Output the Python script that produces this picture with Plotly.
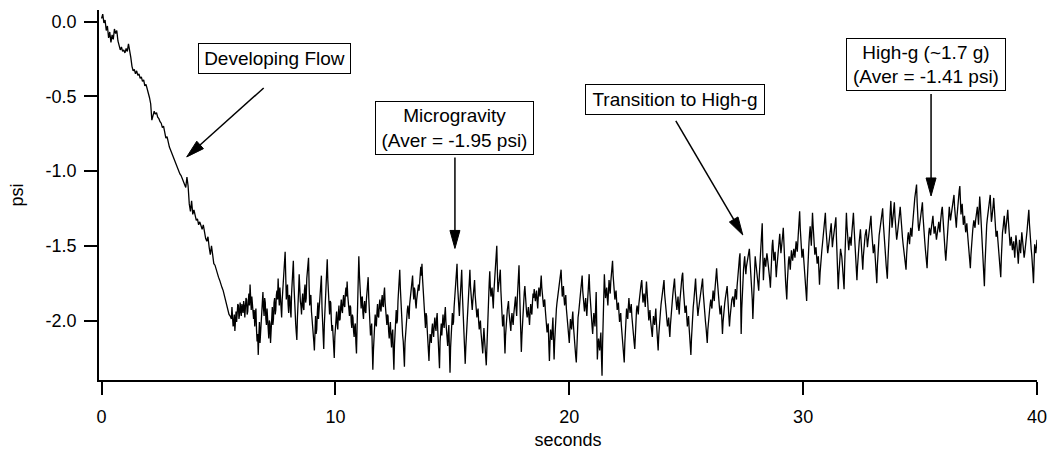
import math
import plotly.graph_objects as go

# ---------------- data (psi) ----------------
DEV_DT = 0.05      # s between samples, developing-flow part
NOISY_DT = 0.025   # s between samples after 5.55 s (main + in-between samples)
NOISY_T0 = 5.55

# 0.00 s - 5.50 s : developing flow (every 0.05 s)
developing_psi = [
    0.02, 0.05, -0.01, 0.01, -0.06, -0.03, -0.11, -0.07, -0.14, -0.09, -0.12, -0.05, -0.08, -0.06, -0.13, -0.16, -0.19, -0.17, -0.20, -0.19,
    -0.21, -0.18, -0.20, -0.15, -0.19, -0.24, -0.30, -0.33, -0.32, -0.35, -0.33, -0.36, -0.35, -0.38, -0.37, -0.40, -0.39, -0.43, -0.42, -0.46,
    -0.48, -0.51, -0.55, -0.66, -0.63, -0.60, -0.62, -0.61, -0.64, -0.65, -0.67, -0.68, -0.71, -0.70, -0.74, -0.78, -0.77, -0.82, -0.84, -0.86,
    -0.88, -0.91, -0.93, -0.95, -0.96, -0.99, -1.00, -1.02, -1.03, -1.05, -1.07, -1.09, -1.11, -1.04, -1.10, -1.22, -1.27, -1.20, -1.29, -1.26,
    -1.31, -1.33, -1.32, -1.36, -1.34, -1.37, -1.39, -1.36, -1.42, -1.45, -1.47, -1.44, -1.51, -1.56, -1.50, -1.58, -1.62, -1.63, -1.66, -1.68,
    -1.71, -1.73, -1.76, -1.78, -1.80, -1.83, -1.86, -1.89, -1.93, -1.96, -1.97,
]

# 5.55 s - 27.50 s : microgravity, samples every 0.05 s
microgravity_psi = [
    -1.99, -1.95, -2.02, -2.07, -1.94, -1.97, -1.90, -1.96, -1.92, -1.89, -1.95, -1.90, -1.93, -1.86, -1.94, -1.82, -1.76, -1.93, -1.88, -1.99,
    -2.04, -1.92, -2.14, -2.23, -2.01, -2.08, -1.93, -1.81, -1.97, -1.88, -2.03, -1.98, -2.12, -2.02, -2.09, -1.91, -1.99, -1.85, -1.93, -1.80,
    -1.72, -1.90, -1.84, -1.98, -1.79, -1.63, -1.54, -1.86, -1.76, -1.95, -1.84, -1.98, -1.72, -1.60, -1.89, -2.02, -2.13, -1.92, -1.69, -1.87,
    -1.96, -1.82, -1.93, -1.76, -1.85, -1.64, -1.58, -1.90, -1.83, -2.01, -2.10, -2.20, -1.97, -2.06, -1.88, -1.94, -1.79, -1.70, -2.05, -2.19,
    -1.92, -1.75, -1.59, -1.84, -1.96, -1.88, -2.07, -2.12, -2.25, -2.03, -1.94, -2.06, -1.90, -1.99, -1.86, -1.95, -1.83, -1.91, -1.78, -1.74,
    -1.88, -1.97, -1.91, -2.05, -1.98, -2.11, -2.02, -2.22, -1.83, -1.57, -1.79, -1.92, -1.84, -1.99, -1.87, -1.95, -1.80, -1.71, -1.93, -2.10,
    -2.02, -2.33, -2.08, -1.96, -2.04, -1.89, -1.98, -1.86, -1.94, -1.83, -1.91, -1.78, -1.95, -2.03, -1.97, -2.12, -2.01, -2.18, -2.06, -2.33,
    -2.05, -1.93, -2.00, -1.79, -1.66, -1.88, -2.04, -2.14, -2.31, -2.07, -1.98, -1.90, -1.99, -1.84, -1.77, -1.70, -1.86, -1.80, -1.92, -1.83,
    -1.76, -1.71, -1.64, -1.62, -1.79, -1.90, -2.05, -1.97, -2.12, -2.27, -2.09, -2.15, -2.02, -2.11, -1.98, -2.07, -1.95, -2.14, -2.32, -2.05,
    -2.10, -1.96, -2.05, -1.91, -2.08, -2.17, -2.03, -2.35, -2.06, -1.95, -2.01, -1.84, -1.72, -1.62, -1.88, -1.97, -1.81, -1.66, -1.92, -2.08,
    -2.29, -2.12, -1.97, -1.81, -1.66, -1.85, -1.93, -1.82, -1.73, -1.89, -1.98, -1.92, -2.06, -2.00, -2.13, -2.22, -2.05, -2.16, -2.30, -2.02,
    -1.86, -1.67, -1.84, -1.78, -1.92, -1.73, -1.62, -1.50, -1.81, -1.74, -1.66, -1.90, -2.04, -1.96, -2.22, -2.01, -1.93, -1.87, -2.00, -2.07,
    -1.95, -2.03, -1.92, -1.84, -1.97, -1.78, -1.63, -1.94, -2.21, -2.00, -1.86, -1.77, -1.90, -1.98, -1.91, -2.03, -1.89, -1.96, -1.82, -1.79,
    -1.87, -1.80, -1.92, -1.78, -1.84, -1.70, -1.83, -1.91, -1.86, -1.99, -2.08, -2.02, -2.27, -2.06, -2.13, -1.98, -2.26, -2.04, -1.92, -1.85,
    -1.78, -1.72, -1.66, -1.84, -1.77, -1.90, -1.83, -1.97, -2.07, -2.15, -1.99, -2.06, -1.94, -2.10, -2.19, -2.28, -2.03, -1.95, -1.86, -1.79,
    -1.70, -1.88, -1.94, -1.85, -1.97, -1.82, -1.69, -1.90, -1.98, -2.09, -1.95, -2.04, -1.81, -2.26, -2.12, -2.20, -2.08, -2.37, -1.94, -1.69,
    -1.85, -1.78, -1.90, -1.73, -1.82, -1.67, -1.60, -1.79, -1.86, -1.80, -1.93, -1.88, -2.01, -1.95, -2.09, -2.15, -2.28, -2.04, -1.92, -1.99,
    -1.85, -1.95, -1.89, -2.03, -2.10, -2.19, -1.98, -1.90, -1.96, -1.84, -1.79, -1.73, -1.88, -1.82, -1.91, -1.74, -1.85, -2.00, -1.93, -2.06,
    -2.11, -1.97, -2.03, -1.92, -2.08, -2.20, -2.01, -1.94, -1.86, -1.80, -1.73, -1.89, -1.95, -2.04, -1.98, -2.11, -1.96, -1.88, -1.79, -1.72,
    -1.86, -1.93, -1.84, -1.96, -1.81, -1.74, -1.68, -1.87, -1.95, -1.90, -2.04, -1.97, -2.12, -2.23, -2.02, -1.91, -1.83, -1.72, -1.86, -1.97,
    -1.90, -1.84, -1.78, -1.72, -1.88, -1.96, -2.05, -2.15, -1.99, -1.93, -1.86, -1.92, -1.80, -1.87, -1.74, -1.65, -1.79, -1.86, -1.96, -1.90,
    -2.09, -1.95, -1.88, -1.82, -1.77, -1.90, -2.04, -1.93, -1.86, -1.84, -1.91, -1.79, -1.86, -1.70, -1.63, -1.55, -2.09, -1.78, -1.66, -1.57,
]
# microgravity in-between samples (5.575 s - 27.525 s)
microgravity_mid_psi = [
    -1.91, -2.04, -1.96, -2.00, -2.01, -1.89, -1.99, -1.88, -1.97, -1.95, -1.87, -1.98, -1.85, -1.96, -1.87, -1.90, -1.85, -1.84, -1.95, -1.93,
    -1.96, -2.06, -2.09, -2.10, -2.15, -1.98, -1.87, -1.92, -1.85, -1.99, -1.92, -2.07, -2.00, -2.15, -1.97, -2.03, -1.88, -1.96, -1.83, -1.86,
    -1.83, -1.78, -1.94, -1.86, -1.70, -1.59, -1.70, -1.80, -1.89, -1.83, -1.93, -1.82, -1.66, -1.76, -1.95, -2.08, -1.98, -1.80, -1.82, -1.90,
    -1.87, -1.91, -1.80, -1.88, -1.72, -1.61, -1.77, -1.84, -1.94, -2.05, -2.14, -2.05, -2.09, -1.95, -1.99, -1.84, -1.76, -1.91, -2.12, -2.03,
    -1.81, -1.66, -1.73, -1.93, -1.87, -2.00, -2.03, -2.20, -2.11, -1.97, -2.02, -1.96, -2.00, -1.91, -1.93, -1.87, -1.90, -1.82, -1.84, -1.83,
    -1.95, -1.90, -2.01, -1.96, -2.07, -2.04, -2.15, -2.05, -1.70, -1.69, -1.88, -1.85, -1.95, -1.90, -1.94, -1.86, -1.76, -1.85, -2.02, -2.06,
    -2.18, -2.20, -1.99, -2.02, -1.95, -1.97, -1.90, -1.92, -1.87, -1.90, -1.82, -1.88, -2.00, -1.96, -2.07, -2.05, -2.12, -2.09, -2.22, -2.16,
    -1.97, -2.02, -1.87, -1.72, -1.78, -1.98, -2.10, -2.22, -2.15, -2.04, -1.93, -1.97, -1.89, -1.81, -1.74, -1.80, -1.78, -1.88, -1.86, -1.80,
    -1.80, -1.68, -1.70, -1.72, -1.86, -1.99, -1.95, -2.06, -2.19, -2.16, -2.12, -2.06, -2.08, -2.03, -2.04, -1.99, -2.06, -2.23, -2.14, -2.02,
    -2.01, -2.02, -1.96, -2.01, -2.13, -2.09, -2.20, -2.18, -1.99, -2.03, -1.91, -1.78, -1.68, -1.77, -1.95, -1.88, -1.72, -1.81, -2.01, -2.16,
    -2.18, -2.05, -1.88, -1.74, -1.77, -1.90, -1.87, -1.76, -1.83, -1.95, -1.94, -2.01, -2.02, -2.08, -2.18, -2.12, -2.12, -2.24, -2.14, -1.93,
    -1.75, -1.78, -1.80, -1.86, -1.81, -1.66, -1.57, -1.67, -1.77, -1.70, -1.80, -1.98, -1.99, -2.11, -2.10, -1.96, -1.90, -1.95, -2.04, -1.99,
    -2.00, -1.96, -1.88, -1.92, -1.86, -1.70, -1.80, -2.08, -2.10, -1.92, -1.81, -1.85, -1.95, -1.93, -1.98, -1.95, -1.94, -1.88, -1.85, -1.83,
    -1.83, -1.87, -1.84, -1.82, -1.76, -1.78, -1.88, -1.87, -1.93, -2.05, -2.04, -2.16, -2.15, -2.10, -2.05, -2.13, -2.14, -1.97, -1.88, -1.81,
    -1.75, -1.68, -1.76, -1.80, -1.85, -1.86, -1.92, -2.03, -2.12, -2.06, -2.03, -1.99, -2.03, -2.15, -2.24, -2.14, -1.98, -1.90, -1.82, -1.74,
    -1.80, -1.91, -1.89, -1.92, -1.89, -1.75, -1.80, -1.95, -2.04, -2.01, -2.00, -1.92, -2.04, -2.18, -2.16, -2.13, -2.24, -2.15, -1.80, -1.78,
    -1.81, -1.85, -1.81, -1.78, -1.74, -1.63, -1.70, -1.83, -1.82, -1.87, -1.90, -1.95, -1.97, -2.03, -2.12, -2.22, -2.15, -1.97, -1.96, -1.91,
    -1.91, -1.92, -1.97, -2.07, -2.15, -2.08, -1.93, -1.94, -1.89, -1.81, -1.75, -1.81, -1.85, -1.87, -1.81, -1.80, -1.94, -1.96, -2.00, -2.09,
    -2.03, -2.01, -1.97, -2.01, -2.15, -2.10, -1.97, -1.89, -1.83, -1.76, -1.82, -1.92, -2.00, -2.01, -2.06, -2.03, -1.91, -1.83, -1.75, -1.80,
    -1.90, -1.88, -1.91, -1.88, -1.77, -1.70, -1.78, -1.92, -1.92, -1.98, -2.00, -2.05, -2.18, -2.12, -1.96, -1.87, -1.77, -1.80, -1.92, -1.93,
    -1.86, -1.81, -1.75, -1.81, -1.92, -2.01, -2.10, -2.06, -1.96, -1.89, -1.90, -1.85, -1.84, -1.80, -1.69, -1.72, -1.83, -1.92, -1.93, -2.00,
    -2.01, -1.91, -1.85, -1.79, -1.84, -1.98, -1.98, -1.89, -1.85, -1.88, -1.84, -1.83, -1.77, -1.66, -1.58, -1.83, -1.92, -1.71, -1.61, -1.64,
]

# 27.55 s - 40.00 s : transition and high-g, samples every 0.05 s
highg_psi = [
    -1.69, -1.61, -1.58, -1.52, -1.66, -1.74, -1.99, -1.71, -1.57, -1.65, -1.73, -1.80, -1.62, -1.48, -1.35, -1.73, -1.58, -1.64, -1.55, -1.61,
    -1.67, -1.78, -1.56, -1.46, -1.60, -1.54, -1.71, -1.59, -1.50, -1.42, -1.55, -1.48, -1.38, -1.62, -1.74, -1.86, -1.63, -1.57, -1.66, -1.53,
    -1.60, -1.52, -1.58, -1.47, -1.54, -1.41, -1.27, -1.49, -1.58, -1.52, -1.66, -1.74, -1.87, -1.61, -1.48, -1.37, -1.50, -1.28, -1.45, -1.56,
    -1.51, -1.62, -1.57, -1.76, -1.60, -1.53, -1.45, -1.39, -1.28, -1.47, -1.55, -1.49, -1.42, -1.35, -1.51, -1.44, -1.39, -1.31, -1.58, -1.79,
    -1.60, -1.52, -1.57, -1.66, -1.79, -1.48, -1.28, -1.45, -1.53, -1.44, -1.50, -1.37, -1.28, -1.46, -1.58, -1.73, -1.55, -1.47, -1.39, -1.52,
    -1.66, -1.49, -1.43, -1.39, -1.51, -1.44, -1.36, -1.30, -1.47, -1.55, -1.49, -1.62, -1.75, -1.52, -1.43, -1.37, -1.31, -1.25, -1.42, -1.51,
    -1.63, -1.72, -1.48, -1.34, -1.20, -1.38, -1.30, -1.21, -1.39, -1.46, -1.40, -1.33, -1.24, -1.37, -1.45, -1.52, -1.58, -1.66, -1.47, -1.41,
    -1.49, -1.38, -1.44, -1.31, -1.22, -1.15, -1.09, -1.33, -1.40, -1.35, -1.28, -1.21, -1.39, -1.47, -1.57, -1.65, -1.45, -1.38, -1.43, -1.36,
    -1.30, -1.42, -1.37, -1.46, -1.40, -1.34, -1.41, -1.28, -1.24, -1.39, -1.50, -1.60, -1.44, -1.36, -1.24, -1.33, -1.27, -1.20, -1.16, -1.31,
    -1.38, -1.25, -1.17, -1.10, -1.29, -1.22, -1.36, -1.30, -1.41, -1.35, -1.46, -1.52, -1.65, -1.48, -1.40, -1.33, -1.38, -1.29, -1.24, -1.36,
    -1.17, -1.30, -1.42, -1.55, -1.77, -1.49, -1.36, -1.29, -1.22, -1.16, -1.34, -1.28, -1.18, -1.37, -1.44, -1.40, -1.52, -1.61, -1.71, -1.45,
    -1.38, -1.30, -1.42, -1.35, -1.26, -1.41, -1.50, -1.44, -1.53, -1.47, -1.58, -1.43, -1.50, -1.62, -1.46, -1.55, -1.41, -1.49, -1.58, -1.52,
    -1.44, -1.35, -1.26, -1.43, -1.52, -1.60, -1.75, -1.49, -1.55, -1.46,
]
# high-g in-between samples (27.575 s - 39.975 s)
highg_mid_psi = [
    -1.64, -1.60, -1.55, -1.59, -1.70, -1.86, -1.84, -1.63, -1.61, -1.69, -1.77, -1.70, -1.55, -1.41, -1.55, -1.65, -1.61, -1.59, -1.58, -1.64,
    -1.73, -1.66, -1.50, -1.53, -1.57, -1.63, -1.65, -1.54, -1.46, -1.49, -1.51, -1.43, -1.50, -1.68, -1.80, -1.74, -1.60, -1.62, -1.59, -1.57,
    -1.56, -1.55, -1.52, -1.51, -1.47, -1.34, -1.38, -1.54, -1.55, -1.59, -1.70, -1.80, -1.74, -1.54, -1.42, -1.44, -1.39, -1.36, -1.51, -1.53,
    -1.57, -1.59, -1.67, -1.68, -1.56, -1.49, -1.42, -1.33, -1.38, -1.51, -1.52, -1.45, -1.38, -1.43, -1.47, -1.41, -1.35, -1.45, -1.69, -1.70,
    -1.56, -1.55, -1.62, -1.73, -1.63, -1.37, -1.37, -1.49, -1.48, -1.47, -1.43, -1.32, -1.37, -1.52, -1.66, -1.64, -1.51, -1.43, -1.46, -1.59,
    -1.57, -1.46, -1.41, -1.45, -1.47, -1.40, -1.33, -1.39, -1.51, -1.52, -1.56, -1.69, -1.63, -1.47, -1.40, -1.34, -1.28, -1.34, -1.47, -1.57,
    -1.68, -1.60, -1.41, -1.27, -1.29, -1.34, -1.25, -1.30, -1.43, -1.43, -1.36, -1.28, -1.31, -1.41, -1.49, -1.55, -1.62, -1.56, -1.44, -1.45,
    -1.43, -1.41, -1.37, -1.26, -1.18, -1.12, -1.21, -1.37, -1.37, -1.31, -1.24, -1.30, -1.43, -1.52, -1.61, -1.55, -1.41, -1.41, -1.39, -1.33,
    -1.36, -1.39, -1.42, -1.43, -1.37, -1.38, -1.34, -1.26, -1.32, -1.45, -1.55, -1.52, -1.40, -1.30, -1.29, -1.30, -1.23, -1.18, -1.24, -1.35,
    -1.31, -1.21, -1.13, -1.20, -1.25, -1.29, -1.33, -1.36, -1.38, -1.41, -1.49, -1.59, -1.56, -1.44, -1.36, -1.36, -1.33, -1.26, -1.30, -1.26,
    -1.23, -1.36, -1.49, -1.66, -1.63, -1.42, -1.32, -1.25, -1.19, -1.25, -1.31, -1.23, -1.27, -1.41, -1.42, -1.46, -1.57, -1.66, -1.58, -1.41,
    -1.34, -1.36, -1.38, -1.30, -1.33, -1.46, -1.47, -1.49, -1.50, -1.53, -1.50, -1.47, -1.56, -1.54, -1.51, -1.48, -1.45, -1.54, -1.55, -1.48,
    -1.40, -1.30, -1.35, -1.48, -1.56, -1.68, -1.62, -1.52, -1.51,
]

# assemble the recorded series: main samples interleaved with the in-between samples
main_noisy = microgravity_psi + highg_psi
mid_noisy = microgravity_mid_psi + highg_mid_psi
noisy_psi = []
for a, b in zip(main_noisy, mid_noisy):
    noisy_psi += [a, b]
noisy_psi += main_noisy[len(mid_noisy):]

psi = developing_psi + noisy_psi
seconds = ([round(i * DEV_DT, 3) for i in range(len(developing_psi))]
           + [round(NOISY_T0 + j * NOISY_DT, 3) for j in range(len(noisy_psi))])

x_tick_vals = [0, 10, 20, 30, 40]
y_tick_vals = [0.0, -0.5, -1.0, -1.5, -2.0]
y_tick_text = ["0.0", "-0.5", "-1.0", "-1.5", "-2.0"]

# annotation boxes: text, centre (seconds, psi)
label_text = [
    "Developing Flow",
    "Microgravity<br>(Aver = -1.95 psi)",
    "Transition to High-g",
    "High-g (~1.7 g)<br>(Aver = -1.41 psi)",
]
label_t = [7.38, 15.08, 24.53, 35.25]
label_psi = [-0.246, -0.712, -0.522, -0.288]
# arrow tips (seconds, psi)
arrow_tip_t = [3.64, 15.11, 27.42, 35.47]
arrow_tip_psi = [-0.906, -1.518, -1.428, -1.167]

# ---------------- styling / geometry ----------------
FONT = "Liberation Sans, Arial, Helvetica, sans-serif"
box_size_px = [(153, 31), (159, 54), (180, 31), (160, 53)]
arrow_tail_px = [(77, 69), (0, 91), (-67, 114), (0, 102)]  # tail offset from tip, y up
HEAD_LEN, HEAD_HALF_W = 18, 5

fig = go.Figure()
fig.add_trace(go.Scatter(
    x=seconds, y=psi, mode="lines",
    line=dict(color="black", width=1.3),
    hoverinfo="skip", showlegend=False,
))

for txt, tx, ty, (bw, bh) in zip(label_text, label_t, label_psi, box_size_px):
    fig.add_annotation(
        x=tx, y=ty, xref="x", yref="y", text=txt, showarrow=False,
        xanchor="center", yanchor="middle", align="center",
        width=bw - 2, height=bh - 2, borderpad=0, borderwidth=1,
        bordercolor="black", bgcolor="white",
        font=dict(family=FONT, size=19, color="black"),
    )

for tx, ty, (dx, dy) in zip(arrow_tip_t, arrow_tip_psi, arrow_tail_px):
    length = math.hypot(dx, dy)
    ux, uy = dx / length, dy / length  # unit vector tip -> tail
    bx, by = ux * (HEAD_LEN - 2), uy * (HEAD_LEN - 2)
    fig.add_shape(
        type="line", xref="x", yref="y", xsizemode="pixel", ysizemode="pixel",
        xanchor=tx, yanchor=ty, x0=dx, y0=dy, x1=bx, y1=by,
        line=dict(color="black", width=1.5),
    )
    cx, cy = ux * HEAD_LEN, uy * HEAD_LEN
    nx, ny = -uy * HEAD_HALF_W, ux * HEAD_HALF_W
    path = (f"M 0,0 L {cx + nx:.2f},{cy + ny:.2f} "
            f"L {cx - nx:.2f},{cy - ny:.2f} Z")
    fig.add_shape(
        type="path", xref="x", yref="y", xsizemode="pixel", ysizemode="pixel",
        xanchor=tx, yanchor=ty, path=path,
        fillcolor="black", line=dict(color="black", width=1),
    )

axis_common = dict(
    showgrid=False, zeroline=False, showline=True, linecolor="black", linewidth=1.5,
    ticks="outside", ticklen=13, tickwidth=1.5, tickcolor="black",
    tickfont=dict(family=FONT, size=18, color="black"),
    automargin=False,
)

fig.update_layout(
    width=1049, height=450,
    margin=dict(l=99, r=12, t=10, b=70),
    paper_bgcolor="white", plot_bgcolor="white",
    showlegend=False,
    font=dict(family=FONT, size=18, color="black"),
    xaxis=dict(
        range=[-0.11, 40], tickvals=x_tick_vals,
        ticklabelstandoff=7,
        title=dict(text="seconds", standoff=8, font=dict(family=FONT, size=18)),
        **axis_common,
    ),
    yaxis=dict(
        range=[-2.398, 0.077], tickvals=y_tick_vals, ticktext=y_tick_text,
        ticklabelstandoff=4,
        title=dict(text="psi", standoff=17, font=dict(family=FONT, size=18)),
        **axis_common,
    ),
)

fig.write_html("out.html")
